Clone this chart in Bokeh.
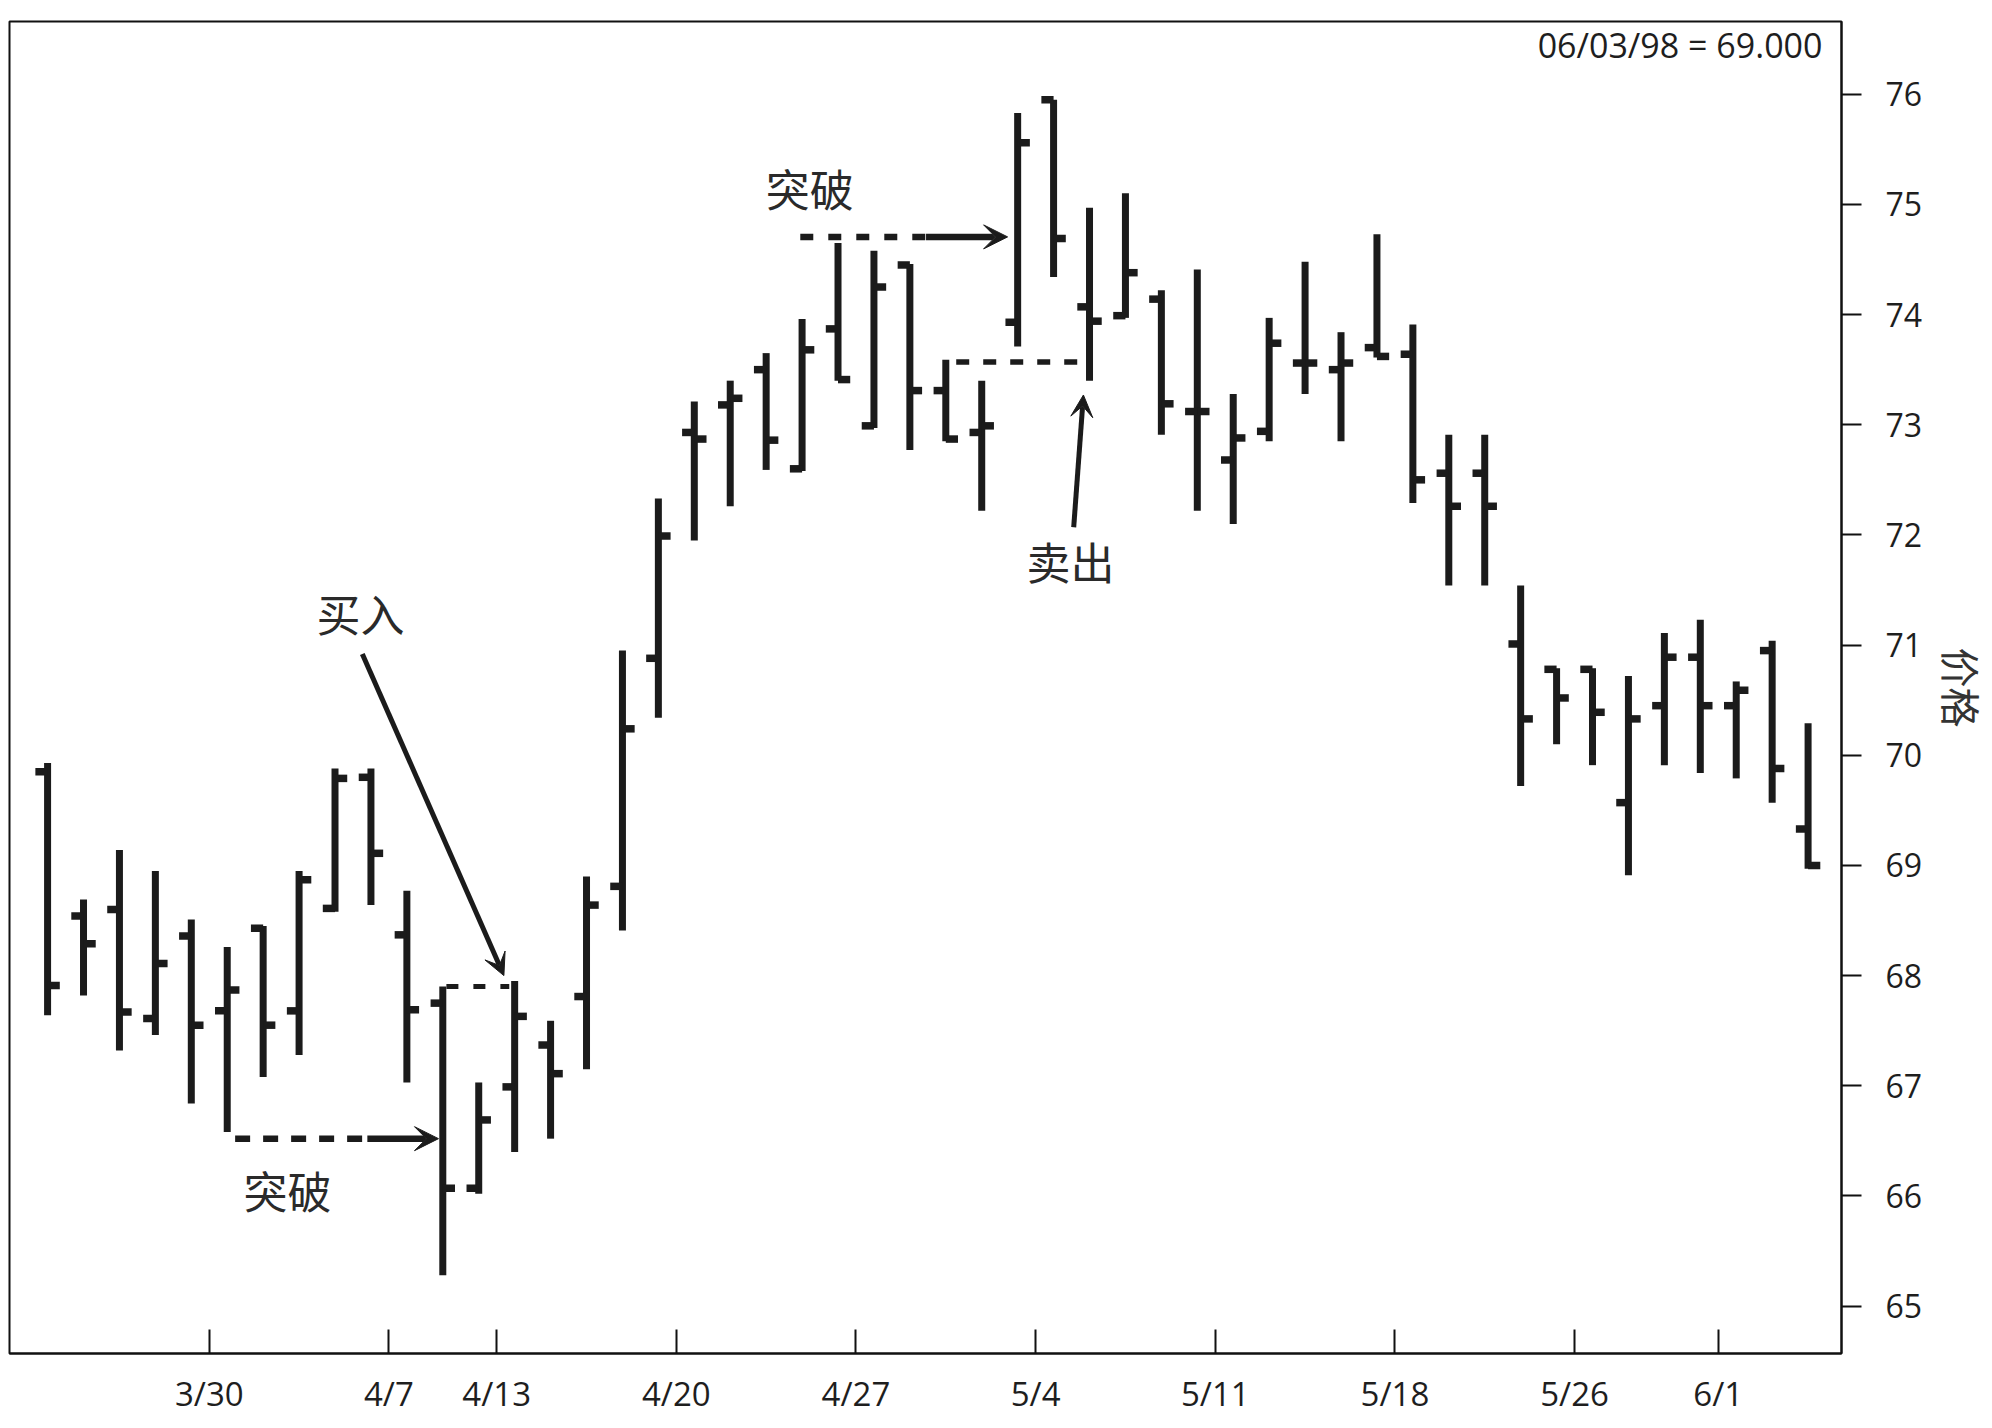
from bokeh.plotting import figure
from bokeh.models import Range1d, FixedTicker, Label, Arrow, VeeHead, ColumnDataSource
from bokeh.embed import file_html
from bokeh.resources import INLINE

# ---------------- data ----------------
dates = ["3/23", "3/24", "3/25", "3/26", "3/27",
         "3/30", "3/31", "4/1", "4/2", "4/3",
         "4/7", "4/8", "4/9",
         "4/13", "4/14", "4/15", "4/16", "4/17",
         "4/20", "4/21", "4/22", "4/23", "4/24",
         "4/27", "4/28", "4/29", "4/30", "5/1",
         "5/4", "5/5", "5/6", "5/7", "5/8",
         "5/11", "5/12", "5/13", "5/14", "5/15",
         "5/18", "5/19", "5/20", "5/21", "5/22",
         "5/26", "5/27", "5/28", "5/29",
         "6/1", "6/2", "6/3"]

opens = [69.85, 68.54, 68.60, 67.61, 68.36, 67.68, 68.43, 67.68, 68.61, 69.80,
         68.37, 67.75, 66.07, 66.99, 67.37, 67.81, 68.81, 70.88, 72.93, 73.18,
         73.50, 72.60, 73.87, 72.99, 74.45, 73.31, 72.93, 73.93, 75.95, 74.07,
         73.99, 74.14, 73.12, 72.68, 72.94, 73.56, 73.50, 73.70, 73.64, 72.56,
         72.56, 71.01, 70.78, 70.78, 69.57, 70.45, 70.89, 70.45, 70.95, 69.33]
highs = [69.93, 68.69, 69.14, 68.95, 68.51, 68.26, 68.45, 68.95, 69.88, 69.88,
         68.77, 67.90, 67.03, 67.95, 67.59, 68.90, 70.95, 72.33, 73.21, 73.40,
         73.65, 73.96, 74.65, 74.58, 74.46, 73.59, 73.40, 75.83, 75.95, 74.97,
         75.10, 74.22, 74.41, 73.28, 73.97, 74.48, 73.84, 74.73, 73.91, 72.91,
         72.91, 71.54, 70.79, 70.79, 70.72, 71.11, 71.23, 70.67, 71.04, 70.29]
lows = [67.64, 67.82, 67.32, 67.46, 66.84, 66.58, 67.08, 67.28, 68.58, 68.64,
        67.03, 65.28, 66.02, 66.40, 66.52, 67.15, 68.41, 70.34, 71.95, 72.26,
        72.59, 72.58, 73.40, 72.97, 72.77, 72.85, 72.22, 73.71, 74.34, 73.40,
        73.97, 72.91, 72.22, 72.10, 72.85, 73.28, 72.85, 73.61, 72.29, 71.54,
        71.54, 69.72, 70.10, 69.91, 68.91, 69.91, 69.84, 69.79, 69.57, 68.97]
closes = [67.91, 68.29, 67.67, 68.11, 67.55, 67.87, 67.55, 68.87, 69.79, 69.11,
          67.69, 66.07, 66.69, 67.63, 67.11, 68.64, 70.24, 71.99, 72.87, 73.24,
          72.86, 73.68, 73.41, 74.25, 73.31, 72.87, 72.99, 75.56, 74.69, 73.94,
          74.38, 73.19, 73.12, 72.88, 73.74, 73.56, 73.56, 73.62, 72.50, 72.26,
          72.26, 70.33, 70.52, 70.39, 70.33, 70.89, 70.45, 70.59, 69.88, 69.00]

tick_dates = ["3/30", "4/7", "4/13", "4/20", "4/27", "5/4", "5/11", "5/18", "5/26", "6/1"]
price_ticks = [65, 66, 67, 68, 69, 70, 71, 72, 73, 74, 75, 76]
last_label = "06/03/98 = 69.000"
y_label = "价格"

# annotation texts
txt_breakout = "突破"
txt_buy = "买入"
txt_sell = "卖出"

# ---------------- figure ----------------
INK = "#1b1b1b"
NUM_FONT = "Open Sans"
CJK_FONT = "Noto Sans CJK SC"

x_idx = [i + 0.5 for i in range(len(dates))]
src = ColumnDataSource(dict(
    x=x_idx,
    xl=[x - 0.34 for x in x_idx],
    xr=[x + 0.34 for x in x_idx],
    o=opens, h=highs, l=lows, c=closes,
))

p = figure(frame_width=1832, frame_height=1332,
           x_range=Range1d(-0.56, 50.43), y_range=Range1d(64.57, 76.66),
           output_backend="svg", toolbar_location=None,
           y_axis_location="right", x_axis_location="below",
           min_border_left=9, min_border_top=21,
           min_border_right=150, min_border_bottom=67,
           background_fill_color="white", border_fill_color="white")
p.grid.visible = False
p.outline_line_color = "#111111"
p.outline_line_width = 2

# bars
p.segment(x0="x", y0="l", x1="x", y1="h", source=src,
          line_color=INK, line_width=7, line_cap="butt")
p.segment(x0="xl", y0="o", x1="x", y1="o", source=src,
          line_color=INK, line_width=7.5, line_cap="butt")
p.segment(x0="x", y0="c", x1="xr", y1="c", source=src,
          line_color=INK, line_width=7.5, line_cap="butt")

# x axis
xa = p.xaxis[0]
tick_pos = [dates.index(d) for d in tick_dates]
xa.ticker = FixedTicker(ticks=tick_pos, minor_ticks=[])
xa.major_label_overrides = {pos: lab for pos, lab in zip(tick_pos, tick_dates)}
xa.major_tick_in = 24
xa.major_tick_out = 0
xa.minor_tick_in = 0
xa.minor_tick_out = 0
xa.major_tick_line_width = 2
xa.major_tick_line_color = "#111111"
xa.axis_line_width = 2
xa.axis_line_color = "#111111"
xa.major_label_standoff = 17
xa.major_label_text_font = NUM_FONT
xa.major_label_text_font_size = "33px"
xa.major_label_text_color = "#1e1e1e"

# y axis
ya = p.yaxis[0]
ya.ticker = FixedTicker(ticks=price_ticks, minor_ticks=[])
ya.major_tick_out = 20
ya.major_tick_in = 0
ya.minor_tick_in = 0
ya.minor_tick_out = 0
ya.major_tick_line_width = 2
ya.major_tick_line_color = "#111111"
ya.axis_line_width = 2
ya.axis_line_color = "#111111"
ya.major_label_standoff = 24
ya.major_label_text_font = NUM_FONT
ya.major_label_text_font_size = "32px"
ya.major_label_text_color = "#1e1e1e"
ya.axis_label = y_label
ya.axis_label_text_font = CJK_FONT
ya.axis_label_text_font_size = "40px"
ya.axis_label_text_font_style = "normal"
ya.axis_label_text_color = "#333333"
ya.axis_label_standoff = 8

# last price label
p.add_layout(Label(x=49.90, y=76.45, text=last_label, text_align="right",
                   text_baseline="alphabetic", text_font=NUM_FONT,
                   text_font_size="34px", text_color="#1e1e1e"))

# ---------------- annotations ----------------
def cjk(x, y, t):
    p.add_layout(Label(x=x, y=y, text=t, text_align="center", text_baseline="middle",
                       text_font=CJK_FONT, text_font_size="44px", text_color="#2a2a2a"))

cjk(21.71, 75.15, txt_breakout)
cjk(7.18, 66.05, txt_breakout)
cjk(9.21, 71.29, txt_buy)
cjk(28.97, 71.76, txt_sell)

def dashed(x0, x1, y, w, dash):
    p.segment(x0=[x0], y0=[y], x1=[x1], y1=[y], line_color=INK,
              line_width=w, line_dash=dash, line_cap="butt")

def arrow(x0, y0, x1, y1, w, size):
    p.add_layout(Arrow(end=VeeHead(size=size, fill_color=INK, line_color=INK, line_width=1),
                       x_start=x0, y_start=y0, x_end=x1, y_end=y1,
                       line_color=INK, line_width=w))

# lower breakout
dashed(5.72, 9.40, 66.52, 6.5, "15 13")
arrow(9.40, 66.52, 11.38, 66.52, 6.5, 24)
# upper breakout
dashed(21.45, 24.95, 74.705, 6.5, "13 15")
arrow(24.95, 74.705, 27.22, 74.705, 6.5, 24)
# buy
dashed(11.60, 13.35, 67.90, 5, "12 15")
arrow(9.26, 70.92, 13.20, 68.00, 5, 22)
# sell
dashed(25.79, 29.21, 73.57, 5.5, "13 14")
arrow(29.06, 72.07, 29.33, 73.27, 5, 22)

open("out.html", "w").write(file_html(p, INLINE))
